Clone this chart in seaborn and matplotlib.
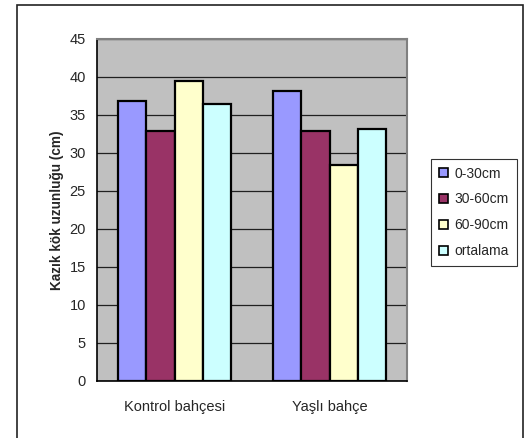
import matplotlib
matplotlib.use("Agg")
import matplotlib.pyplot as plt
from matplotlib.patches import Rectangle
import seaborn as sns
import pandas as pd

# Data: taproot length (cm) by garden and soil depth
gardens = ["Kontrol bahçesi", "Yaşlı bahçe"]
depths = ["0-30cm", "30-60cm", "60-90cm", "ortalama"]
kontrol = [36.8, 32.9, 39.5, 36.4]
yasli = [38.2, 32.9, 28.4, 33.2]
colors = ["#9999FF", "#993366", "#FFFFCC", "#CCFFFF"]
y_ticks = [0, 5, 10, 15, 20, 25, 30, 35, 40, 45]

rows = []
for g, vals in zip(gardens, [kontrol, yasli]):
    for d, v in zip(depths, vals):
        rows.append({"bahce": g, "derinlik": d, "uzunluk": v})
df = pd.DataFrame(rows)

sns.set_style("white")
plt.rcParams["font.family"] = ["Liberation Sans", "DejaVu Sans"]

fig = plt.figure(figsize=(5.31, 4.38), dpi=100)
ax = fig.add_axes([97 / 531, 57 / 438, 310 / 531, 342 / 438])
ax.set_facecolor("#C0C0C0")

sns.barplot(data=df, x="bahce", y="uzunluk", hue="derinlik",
            order=gardens, hue_order=depths, palette=colors, saturation=1,
            width=0.735, edgecolor="black", linewidth=1.6,
            errorbar=None, ax=ax, zorder=3)

ax.set_xlim(-0.5, 1.5)
ax.set_ylim(0, 45)
ax.set_yticks(y_ticks)
ax.set_yticklabels([str(t) for t in y_ticks], fontsize=10.5)
ax.yaxis.grid(True, color="#202020", linewidth=0.9, zorder=1)
ax.set_axisbelow(True)

# category labels without ticks, boundary ticks as minor ticks
ax.set_xticks([0, 1])
ax.set_xticklabels(gardens, fontsize=10.5)
ax.set_xticks([-0.5, 0.5, 1.5], minor=True)
ax.tick_params(axis="x", which="major", length=0, pad=14)
ax.tick_params(axis="x", which="minor", length=5, width=1, color="black", direction="out")
ax.tick_params(axis="y", length=5, width=1, color="black", direction="out", pad=3)

ax.set_xlabel("")
ax.set_ylabel("Kazık kök uzunluğu (cm)", fontsize=9.8, fontweight="bold", labelpad=4)

for side in ["left", "bottom"]:
    ax.spines[side].set_color("black")
    ax.spines[side].set_linewidth(1.2)
for side in ["top", "right"]:
    ax.spines[side].set_visible(True)
    ax.spines[side].set_color("#808080")
    ax.spines[side].set_linewidth(1.5)

leg = ax.legend(loc="upper left", bbox_to_anchor=(431 / 531, 1 - 159 / 438),
                bbox_transform=fig.transFigure, frameon=True, fancybox=False,
                fontsize=10, handlelength=0.65, handleheight=0.65,
                handletextpad=0.5, labelspacing=0.85, borderpad=0.55,
                borderaxespad=0)
leg.get_frame().set_edgecolor("black")
leg.get_frame().set_linewidth(0.8)
for h in leg.legend_handles:
    h.set_linewidth(1.2)
    h.set_edgecolor("black")

# outer chart frame
fig.patches.append(Rectangle((17 / 531, -0.1), 506 / 531, 1.1 - 5 / 438,
                             transform=fig.transFigure, fill=False,
                             edgecolor="#222222", linewidth=1.2, clip_on=False))

fig.savefig("out.png", dpi=100)
